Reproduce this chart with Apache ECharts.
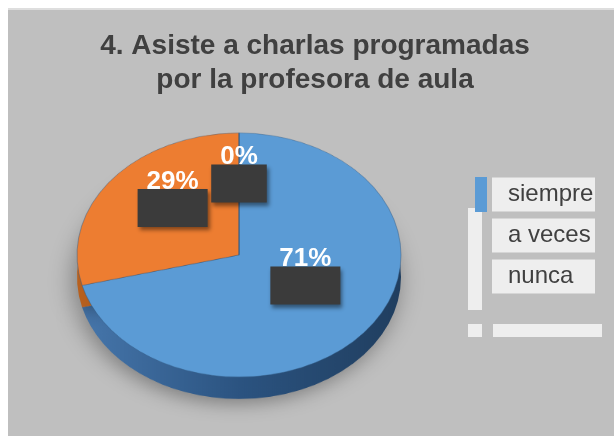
<!DOCTYPE html>
<html lang="es">
<head>
  <meta charset="UTF-8">
  <title>chart</title>
  <style>
    html, body { margin: 0; padding: 0; background: #fff; overflow: hidden; }
    #wrap { position: absolute; left: 0; top: 0; width: 614px; height: 436px; overflow: hidden; background: #fff; }
    #panel { position: absolute; left: 8px; top: 8px; right: 0; bottom: 0; background: #bfbfbf; border-top: 2px solid #dedede; }
    #pie { position: absolute; left: 0; top: 0; width: 614px; height: 580px; transform-origin: 0 0; }
    #main { position: absolute; left: 0; top: 0; width: 614px; height: 436px; }
  </style>
</head>
<body>
<div id="wrap">
  <div id="panel"></div>
  <div id="pie"></div>
  <div id="main"></div>
</div>
<script src="https://cdn.jsdelivr.net/npm/echarts@6/dist/echarts.min.js"></script>
<script>
// datos del grafico
var titleLines = ['4. Asiste a charlas programadas', 'por la profesora de aula'];
var categories = ['siempre', 'a veces', 'nunca'];
var values = [71, 29, 0];
var topColors = ['#5b9bd5', '#ed7d31', '#a5a5a5'];
var sideColors = [
  ['#4676ab', '#2b5380', '#203e5f'],
  ['#b8611f', '#9a4e17', '#7d3f12'],
  ['#8a8a8a', '#707070', '#5a5a5a']
];

var font = "'Liberation Sans', Arial, sans-serif";
var squash = 122 / 162;   // la torta se ve inclinada
var depth = 22;

// torta (se aplasta con css)
var pieDom = document.getElementById('pie');
pieDom.style.transform = 'scaleY(' + squash + ')';
var pieChart = echarts.init(pieDom, null, { renderer: 'canvas' });

function sideColor(i) {
  return new echarts.graphic.LinearGradient(0, 0, 1, 0, [
    { offset: 0, color: sideColors[i][0] },
    { offset: 0.5, color: sideColors[i][1] },
    { offset: 1, color: sideColors[i][2] }
  ]);
}

pieChart.setOption({
  animation: false,
  series: [
    {
      type: 'pie',
      silent: true,
      z: 1,
      center: [239, (255 + depth) / squash],
      radius: 162,
      startAngle: 90,
      label: { show: false },
      labelLine: { show: false },
      itemStyle: {
        shadowBlur: 24,
        shadowColor: 'rgba(0,0,0,0.35)',
        shadowOffsetX: -3,
        shadowOffsetY: 6
      },
      data: categories.map(function (n, i) {
        return { name: n, value: values[i], itemStyle: { color: sideColor(i) } };
      })
    },
    {
      type: 'pie',
      silent: true,
      z: 2,
      center: [239, 255 / squash],
      radius: 162,
      startAngle: 90,
      label: { show: false },
      labelLine: { show: false },
      itemStyle: {
        borderColor: 'rgba(50,90,130,0.45)',
        borderWidth: 1
      },
      data: categories.map(function (n, i) {
        return { name: n, value: values[i], itemStyle: { color: topColors[i] } };
      })
    }
  ]
});

// titulo, leyenda y etiquetas
var myChart = echarts.init(document.getElementById('main'));
var labelCenterY = 230;

myChart.setOption({
  animation: false,
  title: {
    text: titleLines.join('\n'),
    left: 310,
    top: 24,
    textAlign: 'center',
    textStyle: {
      fontFamily: font,
      fontSize: 28,
      fontWeight: 'bold',
      color: '#404040',
      lineHeight: 34
    }
  },
  legend: {
    orient: 'vertical',
    left: 470,
    top: 172,
    icon: 'rect',
    itemWidth: 12,
    itemHeight: 35,
    itemGap: 6,
    selectedMode: false,
    data: categories.map(function (n, i) {
      return { name: n, itemStyle: { color: i === 0 ? topColors[0] : 'rgba(0,0,0,0)' } };
    }),
    textStyle: {
      fontFamily: font,
      fontSize: 24,
      lineHeight: 24,
      color: '#404040',
      backgroundColor: '#eeeeee',
      padding: [5, 2, 5, 16],
      width: 85
    }
  },
  graphic: [
    { type: 'rect', shape: { x: 468, y: 208, width: 14, height: 102 }, style: { fill: '#eeeeee' } },
    { type: 'rect', shape: { x: 468, y: 324, width: 14, height: 13 }, style: { fill: '#eeeeee' } },
    { type: 'rect', shape: { x: 493, y: 324, width: 109, height: 13 }, style: { fill: '#eeeeee' } }
  ],
  series: [{
    type: 'pie',
    center: [239, labelCenterY],
    radius: 162,
    startAngle: 90,
    silent: true,
    itemStyle: { color: 'rgba(0,0,0,0)' },
    emphasis: { disabled: true },
    label: {
      show: true,
      position: 'inside',
      formatter: function (p) {
        var t = Math.round(p.percent) + '%';
        return '{t|' + t + '}\n{b|' + t + '}';
      },
      rich: {
        t: { fontFamily: font, fontSize: 26, fontWeight: 'bold', color: '#ffffff', lineHeight: 28 },
        b: {
          fontFamily: font, fontSize: 26, fontWeight: 'bold', color: 'rgba(0,0,0,0)', lineHeight: 25,
          backgroundColor: '#3b3b3b', padding: [6, 9, 6, 9],
          shadowBlur: 4, shadowColor: 'rgba(0,0,0,0.45)', shadowOffsetX: 2, shadowOffsetY: 3
        }
      }
    },
    labelLayout: function (params) {
      // aplastar la posicion de la etiqueta igual que la torta
      var r = params.labelRect;
      var cy = r.y + r.height / 2;
      return { y: labelCenterY + (cy - labelCenterY) * squash, verticalAlign: 'middle' };
    },
    data: categories.map(function (n, i) {
      return { name: n, value: values[i] };
    })
  }]
});
</script>
</body>
</html>
